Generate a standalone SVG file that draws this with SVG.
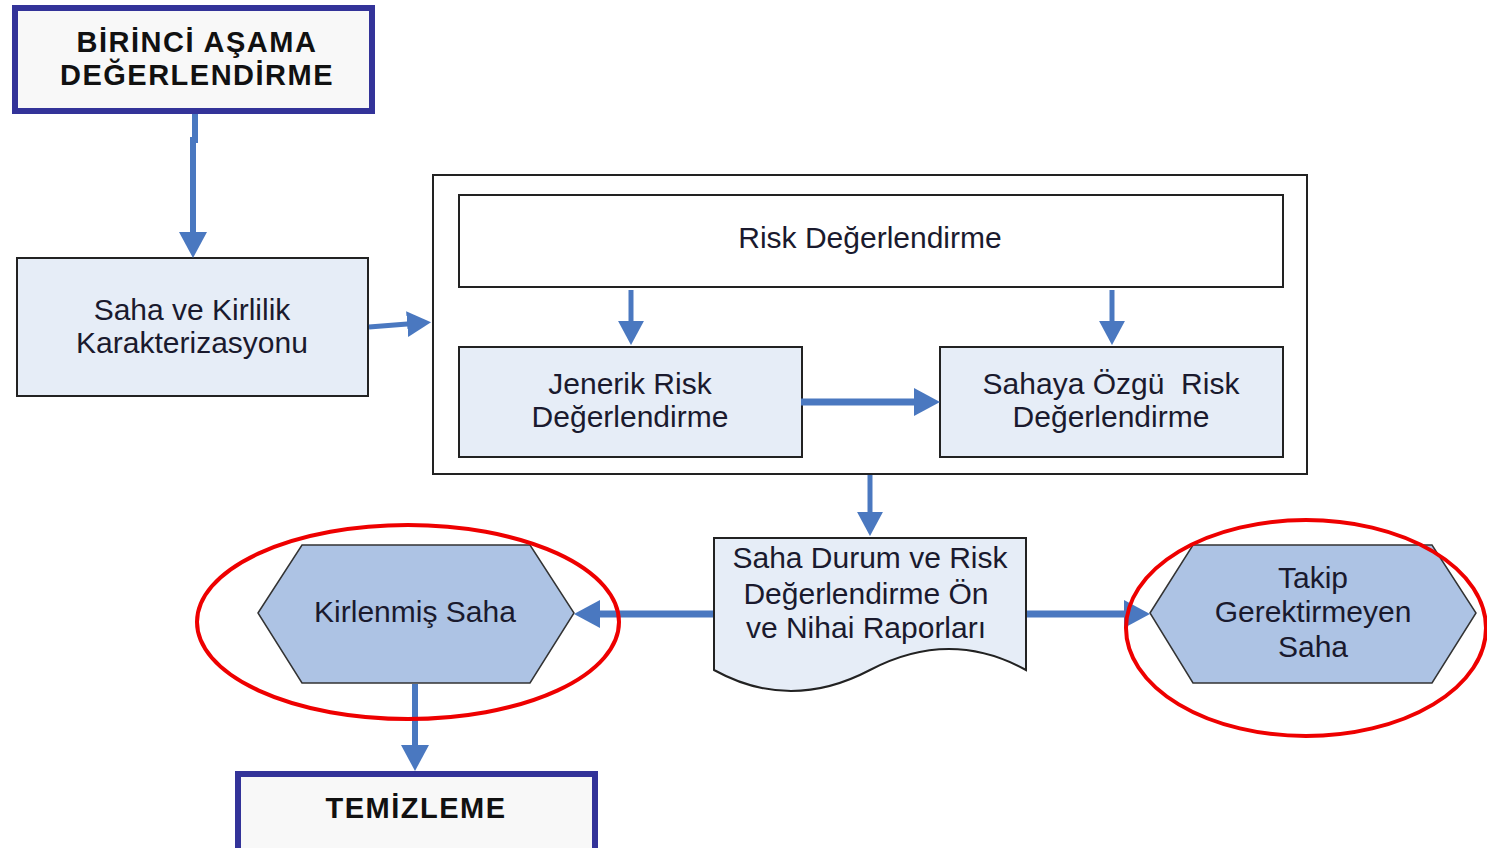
<svg xmlns="http://www.w3.org/2000/svg" width="1487" height="848" viewBox="0 0 1487 848">
  <style>
    .lbl{font-family:"Liberation Sans",Arial,sans-serif;font-size:30px;fill:#1a1a2e;text-anchor:middle}
    .ttl{font-family:"Liberation Sans",Arial,sans-serif;font-size:29px;font-weight:bold;letter-spacing:1.5px;fill:#111;text-anchor:middle}
    .stage{fill:#f8f8f8;stroke:#333399;stroke-width:6}
    .proc{fill:#e6edf7;stroke:#222;stroke-width:2}
    .plain{fill:#ffffff;stroke:#222;stroke-width:2}
    .hex{fill:#adc3e4;stroke:#333;stroke-width:1.5}
    .ring{fill:none;stroke:#ee0000;stroke-width:4}
    .conn{fill:none;stroke:#4a78c0}
  </style>
  <defs>
    <marker id="ah" viewBox="0 0 26 28" refX="14" refY="14" markerWidth="26" markerHeight="28" markerUnits="userSpaceOnUse" orient="auto">
      <path d="M0,0 L26,14 L0,28 z" fill="#4a78c0"/>
    </marker>
    <marker id="ahs" viewBox="0 0 26 28" refX="14" refY="14" markerWidth="24" markerHeight="26" markerUnits="userSpaceOnUse" orient="auto">
      <path d="M0,0 L26,14 L0,28 z" fill="#4a78c0"/>
    </marker>
  </defs>

  <g id="stage1">
    <rect class="stage" x="15" y="8" width="357" height="103"/>
    <text class="ttl" x="197" y="52">BİRİNCİ AŞAMA</text>
    <text class="ttl" x="197" y="85">DEĞERLENDİRME</text>
  </g>

  <g id="characterization">
    <rect class="proc" x="17" y="258" width="351" height="138"/>
    <text class="lbl" x="192" y="320">Saha ve Kirlilik</text>
    <text class="lbl" x="192" y="353">Karakterizasyonu</text>
  </g>

  <g id="risk-container">
    <rect class="plain" x="433" y="175" width="874" height="299"/>
  </g>

  <g id="risk-assessment">
    <rect class="plain" x="459" y="195" width="824" height="92"/>
    <text class="lbl" x="870" y="248">Risk Değerlendirme</text>
  </g>

  <g id="generic-risk">
    <rect class="proc" x="459" y="347" width="343" height="110"/>
    <text class="lbl" x="630" y="394">Jenerik Risk</text>
    <text class="lbl" x="630" y="427">Değerlendirme</text>
  </g>

  <g id="site-specific-risk">
    <rect class="proc" x="940" y="347" width="343" height="110"/>
    <text class="lbl" x="1111" y="394" xml:space="preserve">Sahaya Özgü  Risk</text>
    <text class="lbl" x="1111" y="427">Değerlendirme</text>
  </g>

  <g id="reports">
    <path class="proc" d="M714,538 H1026 V670 Q950,628 870,670 Q790,712 714,670 Z"/>
    <text class="lbl" x="870" y="568">Saha Durum ve Risk</text>
    <text class="lbl" x="866" y="604">Değerlendirme Ön</text>
    <text class="lbl" x="866" y="638">ve Nihai Raporları</text>
  </g>

  <g id="contaminated-site">
    <polygon class="hex" points="258,613 302,545 530,545 574,613 530,683 302,683"/>
    <text class="lbl" x="415" y="622">Kirlenmiş Saha</text>
  </g>

  <g id="no-followup-site">
    <polygon class="hex" points="1150,613 1193,545 1432,545 1476,613 1432,683 1193,683"/>
    <text class="lbl" x="1313" y="588">Takip</text>
    <text class="lbl" x="1313" y="622">Gerektirmeyen</text>
    <text class="lbl" x="1313" y="657">Saha</text>
  </g>

  <g id="cleanup">
    <rect class="stage" x="238" y="774" width="357" height="80"/>
    <text class="ttl" x="416" y="818">TEMİZLEME</text>
  </g>

  <g id="connectors">
    <path class="conn" stroke-width="6" d="M195,114 V140 H193 V246" marker-end="url(#ah)"/>
    <path class="conn" stroke-width="5" d="M369,327 L420,323" marker-end="url(#ahs)"/>
    <path class="conn" stroke-width="5" d="M631,290 V334" marker-end="url(#ahs)"/>
    <path class="conn" stroke-width="5" d="M1112,290 V334" marker-end="url(#ahs)"/>
    <path class="conn" stroke-width="7" d="M801,402 H928" marker-end="url(#ah)"/>
    <path class="conn" stroke-width="5" d="M870,475 V525" marker-end="url(#ahs)"/>
    <path class="conn" stroke-width="7" d="M713,614 H586" marker-end="url(#ah)"/>
    <path class="conn" stroke-width="7" d="M1027,614 H1138" marker-end="url(#ah)"/>
    <path class="conn" stroke-width="6" d="M415,684 V759" marker-end="url(#ah)"/>
  </g>

  <g id="highlights">
    <ellipse class="ring" cx="408" cy="622" rx="211" ry="97"/>
    <ellipse class="ring" cx="1306" cy="628" rx="180" ry="108"/>
  </g>
</svg>
